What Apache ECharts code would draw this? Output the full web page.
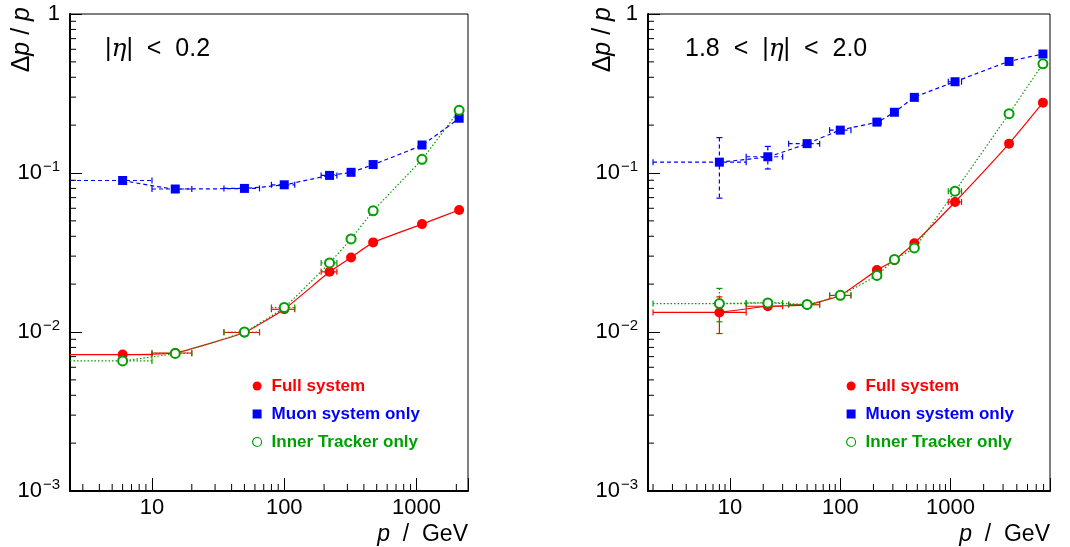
<!DOCTYPE html>
<html>
<head>
<meta charset="utf-8">
<script src="https://cdn.jsdelivr.net/npm/echarts@6/dist/echarts.min.js"></script>
<style>
  html, body { margin: 0; padding: 0; background: #fff; }
  #chart { width: 1070px; height: 547px; }
</style>
</head>
<body>
<div id="chart"></div>
<script>
// |eta| < 0.2
const pLeft = [6, 15, 50, 100, 220, 320, 470, 1100, 2100]
const pLeftLo = [2, 10, 35, 80, 190, 305, 455, 1100, 2100]
const pLeftHi = [10, 20, 65, 120, 250, 335, 485, 1100, 2100]
const fullLeft = [0.00721, 0.00738, 0.00993, 0.0139, 0.0239, 0.0294, 0.0366, 0.0477, 0.0585]
const muonLeft = [0.0897, 0.0793, 0.0800, 0.0843, 0.0966, 0.101, 0.113, 0.150, 0.221]
const innerLeft = [0.00658, 0.00733, 0.0100, 0.01426, 0.0272, 0.0385, 0.0578, 0.122, 0.248]

// 1.8 < |eta| < 2.0
const pRight = [8, 22, 50, 100, 215, 310, 470, 1100, 3400, 6900]
const pRightLo = [2, 14, 34, 80, 200, 300, 455, 955, 3400, 6900]
const pRightHi = [14, 30, 65, 125, 235, 320, 485, 1260, 3400, 6900]
const fullRight = [0.01328, 0.01452, 0.01483, 0.01698, 0.0245, 0.0283, 0.0362, 0.0657, 0.153, 0.277]
const muonRight = [0.117, 0.1265, 0.153, 0.186, 0.209, 0.241, 0.299, 0.375, 0.503, 0.560]
const innerRight = [0.0151, 0.01524, 0.0149, 0.0170, 0.0227, 0.0286, 0.0338, 0.0769, 0.236, 0.486]
const fullRightErrLo = [0.00978, 0.0141]
const fullRightErrHi = [0.01663, 0.0150]
const muonRightErrLo = [0.0695, 0.106]
const muonRightErrHi = [0.167, 0.147]
const innerRightErrLo = [0.0116]
const innerRightErrHi = [0.0188]

// axis ranges and ticks
const xRangeLeft = [2.4, 2450]
const xRangeRight = [1.8, 8000]
const yRange = [0.001, 1]
const xMinorLeft = [3, 4, 5, 6, 7, 8, 9, 20, 30, 40, 50, 60, 70, 80, 90, 200, 300, 400, 500, 600, 700, 800, 900, 2000]
const xMinorRight = [2, 3, 4, 5, 6, 7, 8, 9, 20, 30, 40, 50, 60, 70, 80, 90, 200, 300, 400, 500, 600, 700, 800, 900,
  2000, 3000, 4000, 5000, 6000, 7000]
const yMinor = [0.002, 0.003, 0.004, 0.005, 0.006, 0.007, 0.008, 0.009, 0.02, 0.03, 0.04, 0.05, 0.06, 0.07, 0.08, 0.09,
  0.2, 0.3, 0.4, 0.5, 0.6, 0.7, 0.8, 0.9]

const names = ['Full system', 'Muon system only', 'Inner Tracker only']
const RED = '#ff0000'
const BLUE = '#0000ff'
const GREEN = '#00a000'
const FONT = 'Liberation Sans'

const chart = echarts.init(document.getElementById('chart'))

function isPow10(v) {
  const e = Math.log10(v)
  return Math.abs(e - Math.round(e)) < 1e-6
}

function xAxisOf(gi, range) {
  return {
    type: 'log', gridIndex: gi, min: range[0], max: range[1],
    axisLine: { lineStyle: { color: '#000', width: 2 } },
    axisTick: { inside: true, length: 13, lineStyle: { color: '#000', width: 1 } },
    minorTick: { show: false },
    splitLine: { show: false },
    axisLabel: {
      color: '#000', fontSize: 22, fontFamily: FONT, margin: 6,
      formatter: v => isPow10(v) ? String(Math.round(v)) : ''
    }
  }
}

function yAxisOf(gi) {
  return {
    type: 'log', gridIndex: gi, min: yRange[0], max: yRange[1],
    axisLine: { lineStyle: { color: '#000', width: 2 } },
    axisTick: { inside: true, length: 12, lineStyle: { color: '#000', width: 1 } },
    splitLine: { show: false },
    axisLabel: {
      color: '#000', fontSize: 22, fontFamily: FONT, margin: 10,
      formatter: v => {
        if (!isPow10(v)) return ''
        const e = Math.round(Math.log10(v))
        return e === 0 ? '{b|1}' : '{b|10}{s|−' + (-e) + '}'
      },
      rich: {
        b: { fontSize: 22, fontFamily: FONT, color: '#000' },
        s: { fontSize: 15, fontFamily: FONT, color: '#000', padding: [0, 0, 12, 1] }
      }
    }
  }
}

function tickSeries(gi, dir, values, other, len) {
  return {
    type: 'custom', xAxisIndex: gi, yAxisIndex: gi, silent: true, z: 5,
    data: values.map(v => dir === 'x' ? [v, other] : [other, v]),
    encode: { x: 0, y: 1 },
    renderItem(params, api) {
      const p = api.coord([api.value(0), api.value(1)])
      const shape = dir === 'x'
        ? { x1: p[0], y1: p[1], x2: p[0], y2: p[1] - len }
        : { x1: p[0], y1: p[1], x2: p[0] + len, y2: p[1] }
      return { type: 'line', shape, style: { stroke: '#000', lineWidth: 1 } }
    }
  }
}

function errSeries(gi, p, lo, hi, y, ylo, yhi, color, dash) {
  const data = p.map((v, i) => [v, y[i], lo[i], hi[i],
    (ylo && ylo[i] != null) ? ylo[i] : y[i], (yhi && yhi[i] != null) ? yhi[i] : y[i]])
  return {
    type: 'custom', xAxisIndex: gi, yAxisIndex: gi, silent: true, z: 3,
    data, encode: { x: 0, y: 1 },
    renderItem(params, api) {
      const cs = params.coordSys
      const c = api.coord([api.value(0), api.value(1)])
      const l = api.coord([api.value(2), api.value(1)])
      const r = api.coord([api.value(3), api.value(1)])
      const b = api.coord([api.value(0), api.value(4)])
      const t = api.coord([api.value(0), api.value(5)])
      const st = { stroke: color, lineWidth: 1.2, lineDash: dash }
      const cap = { stroke: color, lineWidth: 1.2 }
      const kids = []
      if (r[0] - l[0] > 2) {
        const x1 = Math.max(l[0], cs.x)
        kids.push({ type: 'line', shape: { x1, y1: c[1], x2: r[0], y2: c[1] }, style: st })
        if (l[0] >= cs.x) kids.push({ type: 'line', shape: { x1: l[0], y1: c[1] - 3, x2: l[0], y2: c[1] + 3 }, style: cap })
        kids.push({ type: 'line', shape: { x1: r[0], y1: c[1] - 3, x2: r[0], y2: c[1] + 3 }, style: cap })
      }
      if (b[1] - t[1] > 2) {
        kids.push({ type: 'line', shape: { x1: c[0], y1: t[1], x2: c[0], y2: b[1] }, style: st })
        kids.push({ type: 'line', shape: { x1: c[0] - 3, y1: t[1], x2: c[0] + 3, y2: t[1] }, style: cap })
        kids.push({ type: 'line', shape: { x1: c[0] - 3, y1: b[1], x2: c[0] + 3, y2: b[1] }, style: cap })
      }
      return { type: 'group', children: kids }
    }
  }
}

function lineSeries(gi, name, p, y, color, dash, symbol, size) {
  return {
    type: 'line', name, xAxisIndex: gi, yAxisIndex: gi, z: 4,
    data: p.map((v, i) => [v, y[i]]),
    smooth: 0.12,
    symbol, symbolSize: size, showSymbol: true,
    lineStyle: { color, width: 1.2, type: dash },
    itemStyle: symbol === 'emptyCircle'
      ? { color: GREEN, borderColor: GREEN, borderWidth: 1.2 }
      : { color },
    emphasis: { disabled: true }
  }
}

function legendOf(left) {
  return {
    left, top: 376, orient: 'vertical', padding: 0, itemWidth: 9, itemHeight: 9, itemGap: 8,
    selectedMode: false,
    textStyle: { fontSize: 17, fontWeight: 'bold', fontFamily: FONT, lineHeight: 20, padding: [0, 0, 0, 5] },
    data: [
      { name: names[0], icon: 'circle', itemStyle: { color: RED }, textStyle: { color: RED } },
      { name: names[1], icon: 'rect', itemStyle: { color: BLUE }, textStyle: { color: BLUE } },
      { name: names[2], icon: 'circle', itemStyle: { color: '#ffffff', borderColor: GREEN, borderWidth: 1.2, opacity: 1 }, textStyle: { color: GREEN } }
    ]
  }
}

function label(x, y, text, extra) {
  return Object.assign({
    type: 'text', x, y, silent: true,
    style: {
      text, fill: '#000', fontSize: 25, fontFamily: FONT,
      textAlign: 'left', textVerticalAlign: 'middle', align: 'left', verticalAlign: 'middle',
      rich: {
        i: { fontSize: 25, fontStyle: 'italic', fontFamily: 'DejaVu Serif', fill: '#000', color: '#000' },
        p: { fontSize: 25, fontStyle: 'italic', fontFamily: FONT, fill: '#000', color: '#000' }
      }
    }
  }, extra || {})
}

function vTitle(x) {
  return label(x, 7, '', { rotation: Math.PI / 2, style: {
    text: 'Δ{p|p} / {p|p}', fill: '#000', fontSize: 25, fontFamily: FONT,
    textAlign: 'right', textVerticalAlign: 'middle', align: 'right', verticalAlign: 'middle',
    rich: { p: { fontSize: 25, fontStyle: 'italic', fontFamily: FONT, fill: '#000', color: '#000' } } } })
}

function xTitle(x) {
  return label(x, 535, '', { style: {
    text: '{p|p}  /  GeV', fill: '#000', fontSize: 23, fontFamily: FONT,
    textAlign: 'right', textVerticalAlign: 'middle', align: 'right', verticalAlign: 'middle',
    rich: { p: { fontSize: 23, fontStyle: 'italic', fontFamily: FONT, fill: '#000', color: '#000' } } } })
}

chart.setOption({
  backgroundColor: '#fff',
  animation: false,
  grid: [
    { left: 70, top: 14, width: 398, height: 477, show: true, borderColor: '#000', borderWidth: 1, backgroundColor: 'transparent' },
    { left: 648, top: 14, width: 402, height: 477, show: true, borderColor: '#000', borderWidth: 1, backgroundColor: 'transparent' }
  ],
  xAxis: [xAxisOf(0, xRangeLeft), xAxisOf(1, xRangeRight)],
  yAxis: [yAxisOf(0), yAxisOf(1)],
  legend: [legendOf(252), legendOf(846)],
  graphic: [
    label(105, 49, '|{i|η}|  <  0.2'),
    label(685, 49, '1.8  <  |{i|η}|  <  2.0'),
    vTitle(22), vTitle(603),
    xTitle(468), xTitle(1050)
  ],
  series: [
    tickSeries(0, 'x', xMinorLeft, yRange[0], 7),
    tickSeries(0, 'y', yMinor, xRangeLeft[0], 6),
    tickSeries(1, 'x', xMinorRight, yRange[0], 7),
    tickSeries(1, 'y', yMinor, xRangeRight[0], 6),

    errSeries(0, pLeft, pLeftLo, pLeftHi, fullLeft, null, null, RED, null),
    errSeries(0, pLeft, pLeftLo, pLeftHi, muonLeft, null, null, BLUE, [4, 3]),
    errSeries(0, pLeft, pLeftLo, pLeftHi, innerLeft, null, null, GREEN, [1.5, 2]),
    errSeries(1, pRight, pRightLo, pRightHi, fullRight, fullRightErrLo, fullRightErrHi, RED, null),
    errSeries(1, pRight, pRightLo, pRightHi, muonRight, muonRightErrLo, muonRightErrHi, BLUE, [4, 3]),
    errSeries(1, pRight, pRightLo, pRightHi, innerRight, innerRightErrLo, innerRightErrHi, GREEN, [1.5, 2]),

    lineSeries(0, names[0], pLeft, fullLeft, RED, 'solid', 'circle', 10),
    lineSeries(0, names[1], pLeft, muonLeft, BLUE, [4, 3], 'rect', 9),
    lineSeries(0, names[2], pLeft, innerLeft, GREEN, [1.5, 2], 'emptyCircle', 9),
    lineSeries(1, names[0], pRight, fullRight, RED, 'solid', 'circle', 10),
    lineSeries(1, names[1], pRight, muonRight, BLUE, [4, 3], 'rect', 9),
    lineSeries(1, names[2], pRight, innerRight, GREEN, [1.5, 2], 'emptyCircle', 9)
  ]
})
</script>
</body>
</html>
